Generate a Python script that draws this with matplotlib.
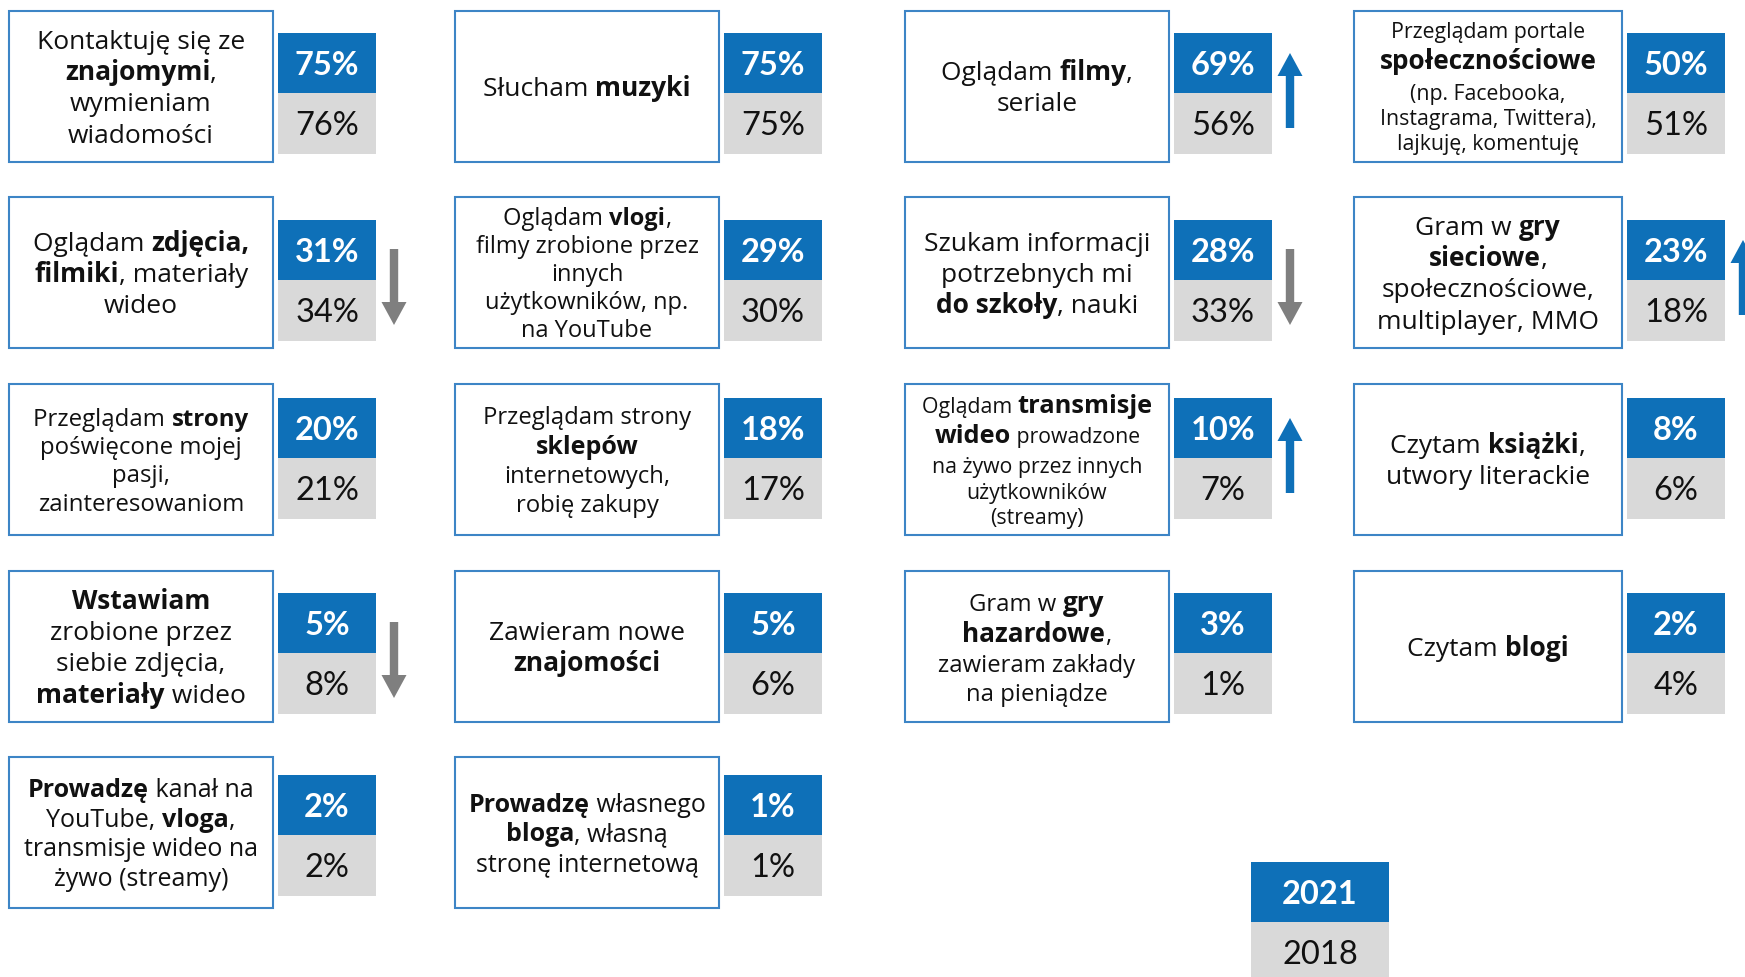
import re
import matplotlib
matplotlib.use("Agg")
import matplotlib.pyplot as plt
from matplotlib.patches import Rectangle, Polygon
from matplotlib.font_manager import FontProperties

# ---------------- data ----------------
labels = [
    "Kontaktuję się ze\n**znajomymi**,\nwymieniam\nwiadomości",
    "Słucham **muzyki**",
    "Oglądam **filmy**,\nseriale",
    "Przeglądam portale\n**społecznościowe**\n(np. Facebooka,\nInstagrama, Twittera),\nlajkuję, komentuję",
    "Oglądam **zdjęcia,**\n**filmiki**, materiały\nwideo",
    "Oglądam **vlogi**,\nfilmy zrobione przez\ninnych\nużytkowników, np.\nna YouTube",
    "Szukam informacji\npotrzebnych mi\n**do szkoły**, nauki",
    "Gram w **gry**\n**sieciowe**,\nspołecznościowe,\nmultiplayer, MMO",
    "Przeglądam **strony**\npoświęcone mojej\npasji,\nzainteresowaniom",
    "Przeglądam strony\n**sklepów**\ninternetowych,\nrobię zakupy",
    "Oglądam **transmisje**\n**wideo** prowadzone\nna żywo przez innych\nużytkowników\n(streamy)",
    "Czytam **książki**,\nutwory literackie",
    "**Wstawiam**\nzrobione przez\nsiebie zdjęcia,\n**materiały** wideo",
    "Zawieram nowe\n**znajomości**",
    "Gram w **gry**\n**hazardowe**,\nzawieram zakłady\nna pieniądze",
    "Czytam **blogi**",
    "**Prowadzę** kanał na\nYouTube, **vloga**,\ntransmisje wideo na\nżywo (streamy)",
    "**Prowadzę** własnego\n**bloga**, własną\nstronę internetową",
]
pct_2021 = [75, 75, 69, 50, 31, 29, 28, 23, 20, 18, 10, 8, 5, 5, 3, 2, 2, 1]
pct_2018 = [76, 75, 56, 51, 34, 30, 33, 18, 21, 17, 7, 6, 8, 6, 1, 4, 2, 1]
trend = ["", "", "up", "", "down", "", "down", "up", "", "", "up", "", "down", "", "", "", "", ""]
legend_years = ["2021", "2018"]

# ---------------- style / layout ----------------
# (regular size, bold size) in pt for each label
label_sizes = [
    (19, 19), (19, 19), (19, 19), (15.3, 18.8), (19, 19), (17, 17),
    (19, 19), (19, 19), (17.3, 17.3), (17.2, 18), (15.3, 18.3), (19, 19),
    (19, 19), (19, 19), (17.2, 18.8), (19, 19), (18, 18), (18, 18),
]
FONT = ["Open Sans", "DejaVu Sans"]
NUM_FONT = ["Lato", "DejaVu Sans"]
BLUE = "#0E70B8"
BORDER = "#3D85C6"
GRAY = "#D9D9D9"
ARROW_GRAY = "#7F7F7F"
TXT = "#111111"

W, H = 1745, 977
COL_X = [9, 455, 905, 1354]
COL_W = [264, 264, 264, 268]
ROW_Y = [11, 197, 384, 571, 757]
ROW_OFF = [22, 23, 14, 22, 18]
BOX_H = 151
PB_GAP, PB_W, PB_H1, PB_H2 = 5, 98, 60, 61

fig = plt.figure(figsize=(W / 100, H / 100), dpi=100)
ax = fig.add_axes([0, 0, 1, 1])
ax.set_xlim(0, W)
ax.set_ylim(H, 0)
ax.axis("off")
renderer = fig.canvas.get_renderer()


def pt2px(s):
    return s * 100 / 72


def text_w(s, size, bold):
    fp = FontProperties(family=FONT, size=size, weight="bold" if bold else "normal")
    w1, _, _ = renderer.get_text_width_height_descent("|" + s + "|", fp, ismath=False)
    w0, _, _ = renderer.get_text_width_height_descent("||", fp, ismath=False)
    return w1 - w0


def parse(line):
    parts = re.split(r"(\*\*.*?\*\*)", line)
    runs = []
    for p in parts:
        if not p:
            continue
        if p.startswith("**"):
            runs.append((p[2:-2], True))
        else:
            runs.append((p, False))
    return runs


def draw_label(label, cx, cy, sizes):
    reg, bol = sizes
    lines = [parse(l) for l in label.split("\n")]
    lsz = [max((bol if b else reg) for _, b in ln) for ln in lines]
    base = [0.0]
    for i in range(1, len(lines)):
        base.append(base[-1] + 1.18 * pt2px(max(lsz[i - 1], lsz[i])))
    cap = 0.71 * pt2px(lsz[0])
    top = base[0] - cap
    shift = cy - (top + base[-1]) / 2
    for ln, b in zip(lines, base):
        widths = [text_w(t, bol if bd else reg, bd) for t, bd in ln]
        x = cx - sum(widths) / 2
        for (t, bd), w in zip(ln, widths):
            ax.text(x, b + shift, t, ha="left", va="baseline", family=FONT,
                    fontsize=bol if bd else reg, fontweight="bold" if bd else "normal",
                    color=TXT)
            x += w


def arrow(xc, y0, y1, direction, color):
    sw, hw, hl = 4.2, 12.5, 23
    if direction == "up":
        pts = [(xc, y0), (xc + hw, y0 + hl), (xc + sw, y0 + hl), (xc + sw, y1),
               (xc - sw, y1), (xc - sw, y0 + hl), (xc - hw, y0 + hl)]
    else:
        pts = [(xc, y1), (xc + hw, y1 - hl), (xc + sw, y1 - hl), (xc + sw, y0),
               (xc - sw, y0), (xc - sw, y1 - hl), (xc - hw, y1 - hl)]
    ax.add_patch(Polygon(pts, closed=True, facecolor=color, edgecolor="none"))


def pct_text(x, y, s, bold, color, size=23.5):
    ax.text(x, y + 0.36 * pt2px(size), s, ha="center", va="baseline", family=NUM_FONT,
            fontsize=size, fontweight="bold" if bold else "normal", color=color)


for i, lab in enumerate(labels):
    r, c = divmod(i, 4)
    x0, y0, bw = COL_X[c], ROW_Y[r], COL_W[c]
    ax.add_patch(Rectangle((x0, y0), bw, BOX_H, facecolor="white",
                           edgecolor=BORDER, linewidth=1.5))
    draw_label(lab, x0 + bw / 2, y0 + BOX_H / 2, label_sizes[i])
    bx = x0 + bw + PB_GAP
    by = y0 + ROW_OFF[r]
    ax.add_patch(Rectangle((bx, by), PB_W, PB_H1, facecolor=BLUE, edgecolor="none"))
    ax.add_patch(Rectangle((bx, by + PB_H1), PB_W, PB_H2, facecolor=GRAY, edgecolor="none"))
    pct_text(bx + PB_W / 2, by + PB_H1 / 2, f"{pct_2021[i]}%", True, "white")
    pct_text(bx + PB_W / 2, by + PB_H1 + PB_H2 / 2, f"{pct_2018[i]}%", False, TXT)
    ax_x = bx + PB_W + 18
    if trend[i] == "up":
        arrow(ax_x, by + 20, by + PB_H1 + PB_H2 - 26, "up", BLUE)
    elif trend[i] == "down":
        arrow(ax_x, by + 29, by + PB_H1 + PB_H2 - 16, "down", ARROW_GRAY)

# legend
lx, ly, lw = 1251, 862, 138
ax.add_patch(Rectangle((lx, ly), lw, 60, facecolor=BLUE, edgecolor="none"))
ax.add_patch(Rectangle((lx, ly + 60), lw, 60, facecolor=GRAY, edgecolor="none"))
pct_text(lx + lw / 2, ly + 30, legend_years[0], True, "white")
pct_text(lx + lw / 2, ly + 90, legend_years[1], False, TXT)

fig.savefig("out.png", dpi=100, facecolor="white")
